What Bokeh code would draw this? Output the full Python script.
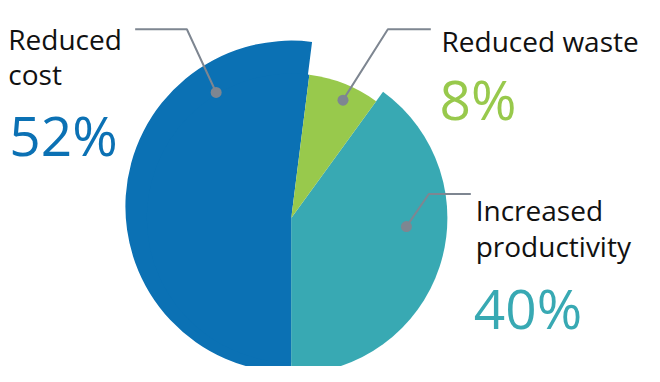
import numpy as np
from bokeh.plotting import figure
from bokeh.models import Range1d
from bokeh.core.properties import value
from bokeh.embed import file_html
from bokeh.resources import INLINE

# ---- data ----
categories = ["Reduced cost", "Reduced waste", "Increased productivity"]
label_lines = [["Reduced", "cost"], ["Reduced waste"], ["Increased", "productivity"]]
shares = [52, 8, 40]
pct_labels = ["52%", "8%", "40%"]

# ---- styles / layout ----
colors = ["#0b71b4", "#98c94c", "#38a9b3"]
radii = [170, 148, 160]
center_py = [215, 227, 227]
center_px = 298
W, H = 660, 382
FONT = "Open Sans"
GRAY = "#7e8691"

def Y(py):
    return H - py

p = figure(width=644, height=366, x_range=Range1d(0, W), y_range=Range1d(0, H),
           output_backend="svg", toolbar_location=None, min_border=0)
p.axis.visible = False
p.grid.visible = False
p.outline_line_color = None
p.background_fill_color = "white"

# angles: clockwise (compass) starting at bottom (180 deg)
start = 180.0
fr = np.array(shares) / sum(shares) * 360.0
cum = start + np.concatenate([[0], np.cumsum(fr)])

def angles(i):
    c0, c1 = cum[i], cum[i + 1]
    return np.deg2rad(90 - c1), np.deg2rad(90 - c0)

# main blue slice (raised centre) plus inner fill from common centre
a0, a1 = angles(0)
p.wedge(x=[center_px], y=[Y(center_py[0])], radius=radii[0],
        start_angle=[a0], end_angle=[a1], direction="anticlock",
        fill_color=colors[0], line_color=None)
p.wedge(x=[center_px], y=[Y(center_py[1])], radius=radii[1],
        start_angle=[a0], end_angle=[a1], direction="anticlock",
        fill_color=colors[0], line_color=None)
for i in [2, 1]:
    s, e = angles(i)
    p.wedge(x=[center_px], y=[Y(center_py[i])], radius=radii[i],
            start_angle=[s], end_angle=[e], direction="anticlock",
            fill_color=colors[i], line_color=None)

# leader lines (pixel coords of reference)
leaders = [
    [(138, 30), (191, 30), (221, 96)],
    [(441, 30), (397, 30), (351, 104)],
    [(482, 202), (439, 202), (416, 236)],
]
for pts in leaders:
    xs = [a for a, b in pts]
    ys = [Y(b) for a, b in pts]
    p.line(xs, ys, line_color=GRAY, line_width=2)
    p.scatter([xs[-1]], [ys[-1]], size=11, fill_color=GRAY, line_color=None)

# category labels
label_pos = [(8, 40), (452, 42), (487, 219)]
line_gap = 37
pct_pos = [(9, 140), (450, 102), (485, 320)]
for i in range(3):
    lx, ly = label_pos[i]
    for j, t in enumerate(label_lines[i]):
        p.text(x=[lx], y=[Y(ly + j * line_gap)], text=[t], text_font=value(FONT),
               text_font_size="28px", text_color="#111111", text_baseline="alphabetic",
               text_align="left")
    px_, py_ = pct_pos[i]
    p.text(x=[px_], y=[Y(py_)], text=[pct_labels[i]], text_font=value(FONT),
           text_font_size="55px", text_color=colors[i], text_baseline="alphabetic",
           text_align="left")

open("out.html", "w").write(file_html(p, INLINE))
